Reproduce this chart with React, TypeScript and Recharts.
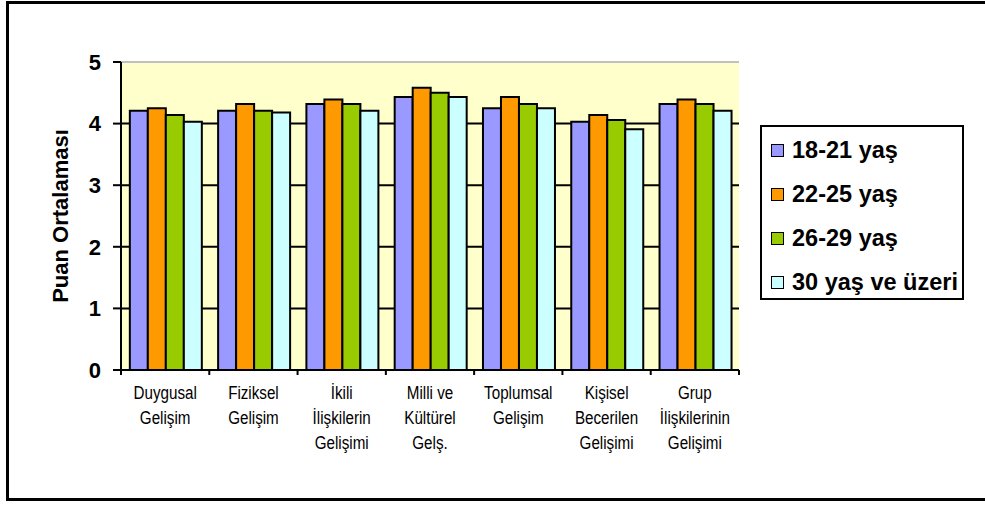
import React from 'react';
import { BarChart, Bar, XAxis, YAxis, CartesianGrid, ReferenceLine } from 'recharts';

const categories = [
  'Duygusal|Gelişim',
  'Fiziksel|Gelişim',
  'İkili|İlişkilerin|Gelişimi',
  'Milli ve|Kültürel|Gelş.',
  'Toplumsal|Gelişim',
  'Kişisel|Becerilen|Gelişimi',
  'Grup|İlişkilerinin|Gelişimi',
];
const s18_21 = [4.21, 4.21, 4.32, 4.43, 4.25, 4.03, 4.32];
const s22_25 = [4.25, 4.32, 4.39, 4.58, 4.43, 4.14, 4.39];
const s26_29 = [4.14, 4.21, 4.32, 4.50, 4.32, 4.06, 4.32];
const s30plus = [4.03, 4.18, 4.21, 4.43, 4.25, 3.91, 4.21];
const yTicks = [0, 1, 2, 3, 4, 5];

const seriesNames = ['18-21 yaş', '22-25 yaş', '26-29 yaş', '30 yaş ve üzeri'];
const seriesKeys = ['a', 'b', 'c', 'd'];
const seriesColors = ['#9999FF', '#FF9900', '#99CC00', '#CCFFFF'];

const data = categories.map((c, i) => ({
  name: c,
  a: s18_21[i],
  b: s22_25[i],
  c: s26_29[i],
  d: s30plus[i],
}));

const W = 985;
const H = 505;
const M = { top: 62, right: 246, bottom: 75, left: 0 };
const Y_W = 121;
const PLOT_W = W - M.right - Y_W;
const HALF = PLOT_W / categories.length / 2;

const XTick = (props: any) => {
  const { x, y, payload, index } = props;
  const lines = String(payload.value).split('|');
  return (
    <g>
      <line x1={x - HALF} x2={x - HALF} y1={y} y2={y + 5} stroke="#000" strokeWidth={2} />
      {index === categories.length - 1 && (
        <line x1={x + HALF} x2={x + HALF} y1={y} y2={y + 5} stroke="#000" strokeWidth={2} />
      )}
      <g transform={`translate(${x},${y}) scale(0.8,1)`}>
        <text
          x={0}
          y={0}
          textAnchor="middle"
          fontFamily="'Liberation Sans', Arial, sans-serif"
          fontSize={19}
          fill="#000"
        >
          {lines.map((l, i) => (
            <tspan key={i} x={0} dy={i === 0 ? 29 : 25}>
              {l}
            </tspan>
          ))}
        </text>
      </g>
    </g>
  );
};

const LegendBox = () => (
  <div
    style={{
      position: 'absolute',
      left: 760,
      top: 125,
      border: '2px solid #000',
      width: 204,
      height: 175,
      boxSizing: 'border-box',
      background: '#fff',
      paddingTop: 1,
      fontFamily: "'Liberation Sans', Arial, sans-serif",
    }}
  >
    {seriesNames.map((n, i) => (
      <div key={n} style={{ display: 'flex', alignItems: 'center', height: 44, marginLeft: 9 }}>
        <span
          style={{
            display: 'inline-block',
            width: 11,
            height: 11,
            background: seriesColors[i],
            border: '1.5px solid #000',
            marginRight: 8,
          }}
        />
        <span style={{ fontSize: 23.5, fontWeight: 'bold', color: '#000', whiteSpace: 'nowrap', lineHeight: '26px' }}>{n}</span>
      </div>
    ))}
  </div>
);

export default function App() {
  return (
    <div style={{ position: 'absolute', left: 0, top: 0, width: W, height: H, overflow: 'hidden', background: '#fff' }}>
      <div
        style={{
          position: 'absolute',
          left: 6,
          top: 1,
          width: 1000,
          height: 500,
          border: '3px solid #000',
          boxSizing: 'border-box',
        }}
      />
      <div style={{ position: 'absolute', left: 0, top: 0 }}>
        <BarChart width={W} height={H} data={data} margin={M} barCategoryGap="10%" barGap={0}>
          <CartesianGrid
            horizontal
            vertical={false}
            horizontalValues={[1, 2, 3, 4]}
            stroke="#000"
            strokeWidth={2}
            fill="#FFFFCC"
            fillOpacity={1}
          />
          <ReferenceLine y={5} stroke="#C0C0C0" strokeWidth={2} />
          <XAxis
            dataKey="name"
            height={60}
            axisLine={{ stroke: '#000', strokeWidth: 2 }}
            tickLine={false}
            tickSize={0}
            tickMargin={0}
            tick={<XTick />}
            interval={0}
          />
          <YAxis
            width={Y_W}
            domain={[0, 5]}
            ticks={yTicks}
            allowDataOverflow
            axisLine={{ stroke: '#000', strokeWidth: 2 }}
            tickLine={{ stroke: '#000', strokeWidth: 2 }}
            tickSize={8}
            tickMargin={12}
            tick={{ fill: '#000', fontSize: 22, fontWeight: 'bold', fontFamily: "'Liberation Sans', Arial, sans-serif" }}
            label={{
              value: 'Puan Ortalaması',
              angle: -90,
              position: 'insideLeft',
              offset: 60,
              style: {
                textAnchor: 'middle',
                fontSize: 22,
                fontWeight: 'bold',
                fill: '#000',
                fontFamily: "'Liberation Sans', Arial, sans-serif",
              },
            }}
          />
          {seriesKeys.map((k, i) => (
            <Bar
              key={k}
              dataKey={k}
              name={seriesNames[i]}
              fill={seriesColors[i]}
              stroke="#000"
              strokeWidth={2}
              isAnimationActive={false}
            />
          ))}
        </BarChart>
      </div>
      <LegendBox />
    </div>
  );
}
